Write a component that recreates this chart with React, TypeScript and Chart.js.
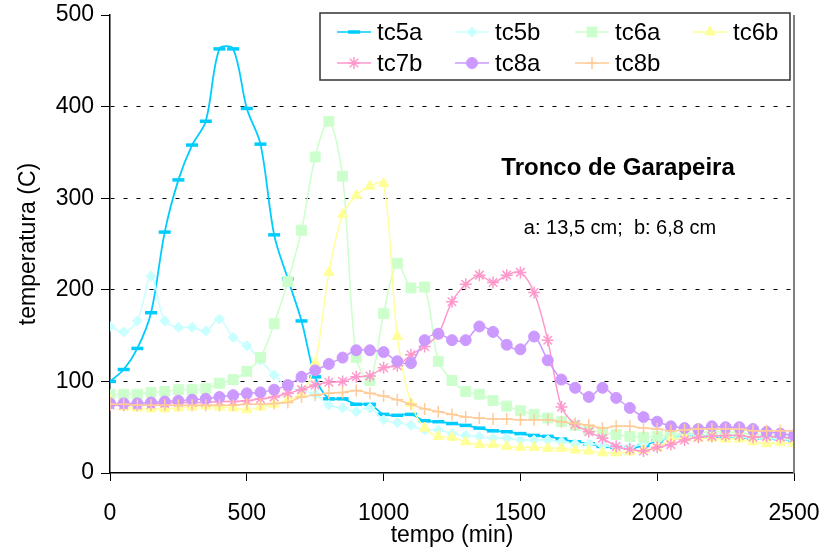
import React, { useEffect, useRef } from 'react';
import { Chart, registerables } from 'chart.js';
import { drawPoint } from 'chart.js/helpers';

Chart.register(...registerables);

// ---------- data ----------
const minutes = [
  0, 50, 100, 150, 200, 250, 300, 350, 400, 450,
  500, 550, 600, 650, 700, 750, 800, 850, 900, 950,
  1000, 1050, 1100, 1150, 1200, 1250, 1300, 1350, 1400, 1450,
  1500, 1550, 1600, 1650, 1700, 1750, 1800, 1850, 1900, 1950,
  2000, 2050, 2100, 2150, 2200, 2250, 2300, 2350, 2400, 2450,
  2500,
];

const tc5a = [
  100, 113, 136, 175, 263, 320, 358, 384, 463, 463,
  398, 359, 260, 212, 166, 105, 81, 81, 75, 75,
  64, 63, 64, 57, 56, 54, 52, 49, 46, 45,
  43, 41, 40, 37, 34, 32, 29, 28, 27, 30,
  35, 38, 40, 40, 40, 40, 39, 38, 38, 37,
  36,
];

const tc5b = [
  160, 154, 166, 215, 166, 159, 159, 155, 168, 148,
  139, 123, 107, 94, 90, 86, 74, 71, 67, 71,
  58, 55, 52, 47, 47, 43, 41, 40, 38, 38,
  36, 36, 36, 34, 32, 32, 30, 28, 28, 32,
  36, 38, 40, 40, 40, 40, 39, 38, 38, 37,
  36,
];

const tc6a = [
  86, 86, 86, 88, 89, 91, 91, 92, 98, 102,
  111, 126, 163, 209, 265, 345, 384, 324, 126, 101,
  174, 229, 202, 203, 122, 101, 89, 86, 79, 73,
  68, 64, 60, 56, 52, 47, 44, 42, 40, 39,
  40, 42, 43, 44, 45, 45, 44, 42, 41, 41,
  40,
];

const tc6b = [
  80, 72, 71, 70, 70, 71, 72, 73, 72, 71,
  69, 72, 75, 80, 86, 120, 219, 282, 303, 313,
  316, 149, 76, 49, 40, 39, 34, 31, 31, 29,
  28, 28, 27, 27, 25, 24, 22, 22, 23, 25,
  28, 36, 38, 38, 38, 37, 37, 34, 32, 33,
  32,
];

const tc7b = [
  74, 74, 74, 75, 76, 77, 77, 77, 78, 78,
  79, 81, 83, 87, 91, 96, 99, 100, 105, 106,
  115, 117, 129, 138, 152, 187, 206, 216, 208, 216,
  219, 197, 145, 72, 53, 45, 38, 29, 26, 24,
  28, 31, 36, 39, 40, 41, 41, 39, 40, 39,
  38,
];

const tc8a = [
  76, 76, 76, 77, 78, 79, 80, 81, 83, 85,
  87, 88, 91, 96, 105, 112, 119, 126, 134, 134,
  132, 122, 120, 145, 152, 145, 145, 160, 154, 140,
  135, 149, 123, 102, 93, 83, 93, 82, 71, 61,
  56, 51, 49, 48, 51, 50, 50, 48, 45, 43,
  41,
];

const tc8b = [
  75, 75, 74, 74, 74, 74, 74, 74, 74, 74,
  75, 75, 76, 77, 83, 85, 87, 88, 90, 87,
  84, 80, 75, 70, 67, 64, 61, 60, 59, 59,
  58, 58, 58, 56, 54, 52, 49, 51, 51, 49,
  48, 46, 47, 48, 48, 48, 48, 46, 46, 46,
  46,
];

const seriesNames = ['tc5a', 'tc5b', 'tc6a', 'tc6b', 'tc7b', 'tc8a', 'tc8b'];
const seriesValues = [tc5a, tc5b, tc6a, tc6b, tc7b, tc8a, tc8b];
const seriesColors = ['#00ccff', '#c8ffff', '#ccffcc', '#ffff99', '#ff99cc', '#cc99ff', '#ffcc99'];
const seriesMarkers = ['line', 'rectRot', 'rect', 'triangle', 'star', 'circle', 'cross'];

const xTicks = [0, 500, 1000, 1500, 2000, 2500];
const yTicks = [0, 100, 200, 300, 400, 500];

const xTitle = 'tempo (min)';
const yTitle = 'temperatura (C)';
const noteTitle = 'Tronco de Garapeira';
const noteText = 'a: 13,5 cm;  b: 6,8 cm';

// ---------- styles ----------
const FONT = 'Arial, "Liberation Sans", sans-serif';
const markerRadius = [6, 5, 7, 6, 6, 5.5, 6];
const markerBorder = [3.5, 1, 1, 1, 1.5, 1, 1.5];

function styleFor(i: number) {
  return {
    pointStyle: seriesMarkers[i],
    radius: markerRadius[i],
    borderWidth: markerBorder[i],
    rotation: 0,
  };
}

const overlayPlugin = {
  id: 'overlay',
  afterDraw(chart: any) {
    const { ctx, chartArea, scales } = chart;
    ctx.save();
    // right border of plot area
    ctx.strokeStyle = '#808080';
    ctx.lineWidth = 2;
    ctx.beginPath();
    ctx.moveTo(chartArea.right, chartArea.top);
    ctx.lineTo(chartArea.right, chartArea.bottom);
    ctx.stroke();

    // annotation texts
    ctx.fillStyle = '#000';
    ctx.textAlign = 'center';
    ctx.textBaseline = 'middle';
    ctx.font = `bold 24px ${FONT}`;
    ctx.fillText(noteTitle, scales.x.getPixelForValue(1857), scales.y.getPixelForValue(333));
    ctx.font = `20px ${FONT}`;
    ctx.fillText(noteText, scales.x.getPixelForValue(1864), scales.y.getPixelForValue(267));

    // legend box
    const bx = 320, by = 13, bw = 470, bh = 67;
    ctx.fillStyle = '#fff';
    ctx.fillRect(bx, by, bw, bh);
    ctx.strokeStyle = '#333';
    ctx.lineWidth = 1.5;
    ctx.strokeRect(bx, by, bw, bh);

    const colX = [337, 455, 575, 693];
    const rowY = [32, 63];
    ctx.font = `24px ${FONT}`;
    ctx.textAlign = 'left';
    ctx.textBaseline = 'middle';
    seriesNames.forEach((name, i) => {
      const cx = colX[i % 4];
      const cy = rowY[Math.floor(i / 4)];
      ctx.strokeStyle = seriesColors[i];
      ctx.fillStyle = seriesColors[i];
      ctx.lineWidth = 1.5;
      ctx.beginPath();
      ctx.moveTo(cx, cy);
      ctx.lineTo(cx + 34, cy);
      ctx.stroke();
      ctx.lineWidth = markerBorder[i];
      drawPoint(ctx, styleFor(i) as any, cx + 17, cy);
      ctx.fillStyle = '#000';
      ctx.fillText(name, cx + 40, cy + 1);
    });
    ctx.restore();
  },
};

export default function App() {
  const canvasRef = useRef<HTMLCanvasElement | null>(null);

  useEffect(() => {
    const canvas = canvasRef.current;
    if (!canvas) return;
    const datasets = seriesNames.map((name, i) => ({
      label: name,
      data: minutes.map((m, k) => ({ x: m, y: seriesValues[i][k] })),
      borderColor: seriesColors[i],
      backgroundColor: seriesColors[i],
      pointBackgroundColor: seriesColors[i],
      pointBorderColor: seriesColors[i],
      borderWidth: i === 0 ? 1.8 : 1.5,
      pointStyle: seriesMarkers[i],
      pointRadius: markerRadius[i],
      pointBorderWidth: markerBorder[i],
      pointHoverRadius: markerRadius[i],
      tension: 0.33,
      fill: false,
      order: seriesNames.length - i,
    }));

    const chart = new Chart(canvas, {
      type: 'line',
      data: { datasets },
      plugins: [overlayPlugin],
      options: {
        animation: false,
        responsive: false,
        layout: { padding: { left: 0, right: 30, top: 15, bottom: 0 } },
        plugins: {
          legend: { display: false },
          tooltip: { enabled: false },
        },
        scales: {
          x: {
            type: 'linear',
            min: 0,
            max: 2500,
            afterBuildTicks: (scale: any) => {
              scale.ticks = xTicks.map((v) => ({ value: v }));
            },
            afterFit: (scale: any) => {
              scale.height = 77;
              scale.paddingLeft = 0;
              scale.paddingRight = 0;
            },
            grid: {
              drawOnChartArea: false,
              drawTicks: true,
              tickLength: 8,
              tickColor: '#000',
              tickWidth: 1,
            },
            border: { display: true, color: '#000', width: 1.5 },
            ticks: {
              color: '#000',
              font: { family: FONT, size: 23 },
              padding: 19,
              maxRotation: 0,
              callback: (v: any) => String(v),
            },
            title: {
              display: true,
              text: xTitle,
              color: '#000',
              font: { family: FONT, size: 23 },
              padding: { top: 0, bottom: 1 },
            },
          },
          y: {
            type: 'linear',
            min: 0,
            max: 500,
            afterBuildTicks: (scale: any) => {
              scale.ticks = yTicks.map((v) => ({ value: v }));
            },
            afterFit: (scale: any) => {
              scale.width = 110;
              scale.paddingTop = 0;
              scale.paddingBottom = 0;
            },
            grid: {
              drawOnChartArea: true,
              drawTicks: true,
              tickLength: 9,
              color: (c: any) =>
                c.tick && (c.tick.value === 0 || c.tick.value === 500) ? 'rgba(0,0,0,0)' : '#000',
              tickColor: '#000',
              lineWidth: 1,
            },
            border: { display: true, color: '#000', width: 1.5, dash: [4, 9] },
            ticks: {
              color: '#000',
              font: { family: FONT, size: 23 },
              padding: 7,
              callback: (v: any) => String(v),
            },
            title: {
              display: true,
              text: yTitle,
              color: '#000',
              font: { family: FONT, size: 23 },
              padding: { top: 15, bottom: 0 },
            },
          },
        },
      },
    } as any);

    return () => chart.destroy();
  }, []);

  return (
    <div style={{ position: 'absolute', left: 0, top: 0, width: 824, height: 550, background: '#fff' }}>
      <canvas ref={canvasRef} width={824} height={550} style={{ display: 'block' }} />
    </div>
  );
}
